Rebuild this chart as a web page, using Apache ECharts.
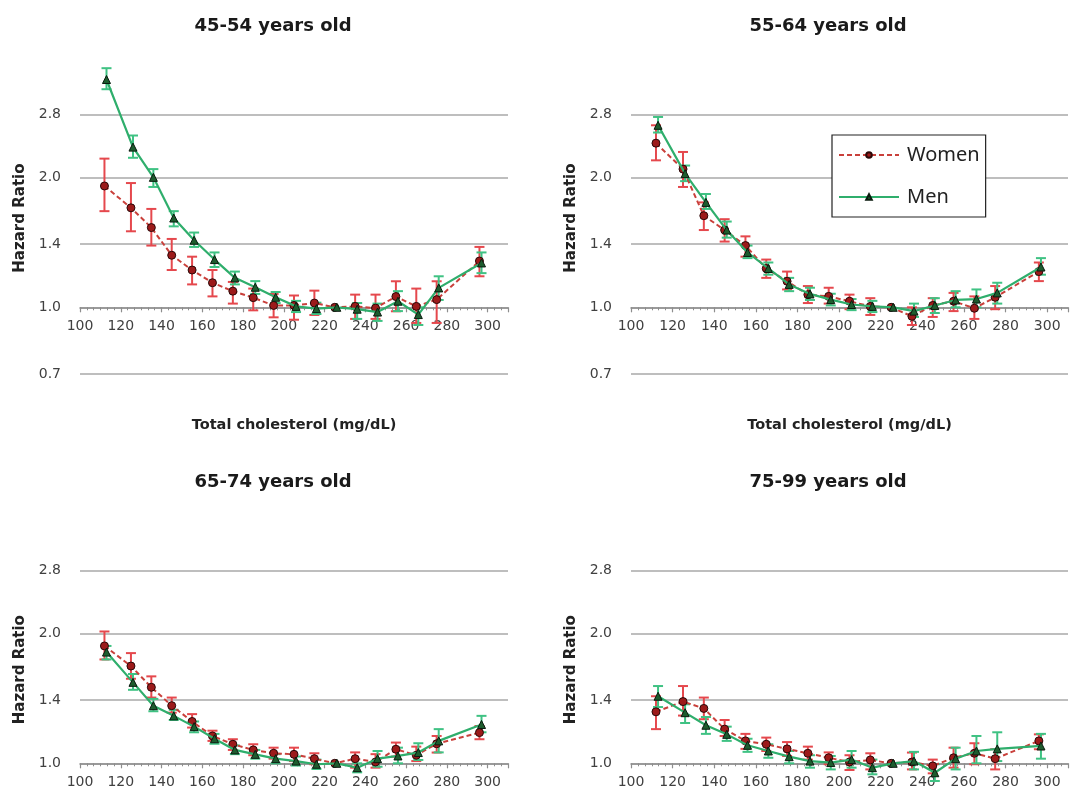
<!DOCTYPE html>
<html><head><meta charset="utf-8">
<script src="https://cdn.jsdelivr.net/npm/echarts@6/dist/echarts.min.js"></script>
<style>html,body{margin:0;padding:0;background:#fff}#c{width:1071px;height:794px}</style>
</head><body><div id="c"></div>
<script>
// ---- data ----
const xWomen = [112,125,135,145,155,165,175,185,195,205,215,225,235,245,255,265,275,296];
const xMen   = [113,126,136,146,156,166,176,186,196,206,216,226,236,246,256,266,276,297];
const yTicks = [0.7, 1.0, 1.4, 2.0, 2.8];
const panelTitles = ['45-54 years old','55-64 years old','65-74 years old','75-99 years old'];
const xAxisTitle = 'Total cholesterol (mg/dL)';
const yAxisTitle = 'Hazard Ratio';
const seriesNames = ['Women','Men'];

// 45-54
const w1   = [1.91,1.70,1.53,1.32,1.22,1.14,1.09,1.053,1.01,1.01,1.023,1.0,1.005,0.996,1.059,1.005,1.042,1.28];
const w1lo = [1.67,1.50,1.39,1.22,1.13,1.06,1.02,0.984,0.948,0.936,0.96,null,0.94,0.94,0.979,0.92,0.92,1.18];
const w1hi = [2.21,1.94,1.69,1.44,1.31,1.22,1.145,1.105,1.074,1.065,1.093,null,1.07,1.07,1.149,1.105,1.149,1.38];
const m1   = [3.37,2.35,2.00,1.61,1.43,1.29,1.17,1.113,1.055,1.005,0.993,1.0,0.99,0.975,1.033,0.962,1.109,1.267];
const m1lo = [3.20,2.22,1.90,1.54,1.38,1.24,1.13,1.074,1.023,0.975,0.965,null,0.94,0.93,0.98,0.91,1.04,1.20];
const m1hi = [3.58,2.50,2.09,1.67,1.49,1.34,1.21,1.15,1.085,1.035,1.025,null,1.023,1.02,1.09,1.0,1.18,1.34];
// 55-64
const w2   = [2.40,2.09,1.63,1.51,1.39,1.23,1.149,1.07,1.06,1.033,1.005,1.0,0.953,1.01,1.033,0.995,1.055,1.21];
const w2lo = [2.19,1.90,1.51,1.42,1.31,1.17,1.10,1.023,1.02,0.99,0.96,null,0.91,0.95,0.98,0.94,0.99,1.15];
const w2hi = [2.64,2.29,1.75,1.60,1.46,1.29,1.21,1.12,1.11,1.07,1.05,null,1.0,1.05,1.08,1.06,1.12,1.27];
const m2   = [2.64,2.04,1.75,1.51,1.34,1.23,1.13,1.074,1.042,1.015,1.005,1.0,0.98,1.01,1.04,1.045,1.08,1.24];
const m2lo = [2.54,1.96,1.69,1.45,1.30,1.19,1.09,1.04,1.01,0.985,0.975,null,0.95,0.97,1.0,1.0,1.02,1.19];
const m2hi = [2.76,2.13,1.83,1.58,1.39,1.27,1.17,1.11,1.075,1.045,1.035,null,1.02,1.05,1.09,1.10,1.14,1.30];
// 65-74
const w3   = [1.87,1.68,1.50,1.36,1.25,1.157,1.107,1.074,1.055,1.049,1.025,1.0,1.025,1.007,1.078,1.044,1.11,1.178];
const w3lo = [1.74,1.57,1.42,1.31,1.21,1.127,1.074,1.044,1.025,1.012,0.995,null,0.977,0.977,1.036,1.012,1.059,1.137];
const w3hi = [2.02,1.80,1.59,1.42,1.30,1.19,1.137,1.107,1.087,1.087,1.055,null,1.06,1.05,1.117,1.093,1.157,1.22];
const m3   = [1.81,1.54,1.36,1.288,1.216,1.14,1.074,1.049,1.025,1.012,0.995,1.0,0.977,1.025,1.04,1.059,1.127,1.23];
const m3lo = [1.74,1.48,1.32,1.26,1.18,1.11,1.05,1.025,1.0,0.988,0.97,null,0.953,0.982,1.0,1.018,1.06,1.18];
const m3hi = [1.87,1.61,1.41,1.33,1.25,1.17,1.1,1.074,1.05,1.037,1.02,null,1.0,1.068,1.087,1.113,1.2,1.288];
// 75-99
const w4   = [1.316,1.39,1.34,1.20,1.127,1.107,1.08,1.055,1.03,1.007,1.018,1.0,1.007,0.986,1.03,1.055,1.025,1.127];
const w4lo = [1.20,1.29,1.265,1.157,1.08,1.068,1.04,1.02,0.995,0.965,0.968,null,0.968,0.948,0.977,0.995,0.968,1.078];
const w4hi = [1.43,1.51,1.42,1.26,1.17,1.147,1.12,1.093,1.06,1.044,1.055,null,1.059,1.02,1.087,1.113,1.078,1.167];
const m4   = [1.43,1.31,1.225,1.167,1.101,1.068,1.036,1.012,1.004,1.02,0.977,1.0,1.012,0.951,1.025,1.068,1.08,1.097];
const m4lo = [1.35,1.24,1.17,1.127,1.063,1.03,1.0,0.977,0.968,0.977,0.943,null,0.968,0.91,0.968,1.0,1.012,1.025];
const m4hi = [1.51,1.37,1.28,1.216,1.14,1.107,1.068,1.044,1.04,1.068,1.02,null,1.063,0.995,1.087,1.157,1.18,1.17];

const panels = [
  {w:w1, wlo:w1lo, whi:w1hi, m:m1, mlo:m1lo, mhi:m1hi},
  {w:w2, wlo:w2lo, whi:w2hi, m:m2, mlo:m2lo, mhi:m2hi},
  {w:w3, wlo:w3lo, whi:w3hi, m:m3, mlo:m3lo, mhi:m3hi},
  {w:w4, wlo:w4lo, whi:w4hi, m:m4, mlo:m4lo, mhi:m4hi}
];

// ---- layout / style ----
const Y_MAX = 3.7;
const PX_PER_LN = 187.5;
// bottom-row panels are cropped by the picture edge, so their visible range stops above 0.7
const panelMin = [0.7, 0.7, 0.852, 0.852];
const gridPos = [
  {left:80, top:62, width:428},
  {left:631, top:62, width:437},
  {left:80, top:518, width:428},
  {left:631, top:518, width:437}
];
const yNamePad = [[0,0,0,0],[0,0,0,0],[0,28,0,0],[0,28,0,0]];
const titlePos = [{x:268,y:12},{x:823,y:12},{x:268,y:468},{x:823,y:468}];
const C_W_LINE = '#c9403b', C_W_ERR = '#e5484d', C_W_SYM = '#9c1a1a';
const C_M_LINE = '#2fae6c', C_M_ERR = '#3fc283', C_M_SYM = '#1d5c2e';
const GRID_C = '#a8a8a8', AXIS_C = '#8e8e8e', TXT_C = '#404040';
const FONT = 'DejaVu Sans';

function errRender(color){
  return function(params, api){
    const x = api.value(0), lo = api.value(1), hi = api.value(2);
    const a = api.coord([x, lo]), b = api.coord([x, hi]);
    const w = 5;
    const st = {stroke: color, lineWidth: 2};
    return {type:'group', children:[
      {type:'line', shape:{x1:a[0], y1:a[1], x2:b[0], y2:b[1]}, style:st},
      {type:'line', shape:{x1:a[0]-w, y1:a[1], x2:a[0]+w, y2:a[1]}, style:st},
      {type:'line', shape:{x1:b[0]-w, y1:b[1], x2:b[0]+w, y2:b[1]}, style:st}
    ]};
  };
}

const grid = [], xAxis = [], yAxis = [], series = [], title = [];
panels.forEach((p, i) => {
  const g = gridPos[i];
  const yMin = panelMin[i];
  const h = PX_PER_LN * Math.log(Y_MAX / yMin);
  grid.push({left:g.left, top:g.top, width:g.width, height:h, outerBoundsMode:'none', containLabel:false});
  const xOff = -h * Math.log(1 / yMin) / Math.log(Y_MAX / yMin);
  xAxis.push({
    type:'value', gridIndex:i, min:100, max:310, interval:20, position:'bottom', offset:xOff,
    axisLine:{show:true, onZero:false, lineStyle:{color:AXIS_C, width:1.5}},
    axisTick:{show:true, length:5, lineStyle:{color:AXIS_C, width:1.2}},
    minorTick:{show:true, splitNumber:6, length:3, lineStyle:{color:AXIS_C}},
    splitLine:{show:false},
    axisLabel:{formatter:v => v <= 300 ? String(v) : '', fontSize:14, color:TXT_C, fontFamily:FONT, margin:12},
    name: i < 2 ? xAxisTitle : '', nameLocation:'middle', nameGap:110,
    nameTextStyle:{fontSize:14.5, fontWeight:'bold', color:'#222', fontFamily:FONT}
  });
  yAxis.push({
    type:'log', gridIndex:i, min:yMin, max:Y_MAX, logBase:10,
    axisLine:{show:false},
    axisTick:{show:false, customValues:yTicks.filter(v => v >= yMin)},
    axisLabel:{customValues:yTicks.filter(v => v >= yMin), formatter:v => Number(v).toFixed(1), fontSize:14, color:TXT_C, fontFamily:FONT, margin:19},
    splitLine:{show:true, lineStyle:{color:GRID_C, width:1.5}},
    name:yAxisTitle, nameLocation:'middle', nameGap:52, nameRotate:90,
    nameTextStyle:{fontSize:15, fontWeight:'bold', color:'#222', fontFamily:FONT, padding:yNamePad[i]}
  });
  title.push({text:panelTitles[i], left:titlePos[i].x, top:titlePos[i].y, textAlign:'center',
    textStyle:{fontSize:18, fontWeight:'bold', color:'#1a1a1a', fontFamily:FONT}});

  const wErr = [], mErr = [];
  xWomen.forEach((x, k) => { if (p.wlo[k] != null) wErr.push([x, p.wlo[k], p.whi[k]]); });
  xMen.forEach((x, k) => { if (p.mlo[k] != null) mErr.push([x, p.mlo[k], p.mhi[k]]); });

  series.push({type:'custom', name:'Women CI', xAxisIndex:i, yAxisIndex:i, renderItem:errRender(C_W_ERR),
    data:wErr, encode:{x:0, y:[1,2]}, z:2, silent:true, clip:false});
  series.push({type:'custom', name:'Men CI', xAxisIndex:i, yAxisIndex:i, renderItem:errRender(C_M_ERR),
    data:mErr, encode:{x:0, y:[1,2]}, z:2, silent:true, clip:false});
  series.push({type:'line', name:seriesNames[0], xAxisIndex:i, yAxisIndex:i,
    data:xWomen.map((x, k) => [x, p.w[k]]),
    symbol:'circle', symbolSize:8, showAllSymbol:true,
    lineStyle:{color:C_W_LINE, width:2, type:[5,3]},
    itemStyle:{color:C_W_SYM, borderColor:'#2a0808', borderWidth:1},
    z:3, animation:false});
  series.push({type:'line', name:seriesNames[1], xAxisIndex:i, yAxisIndex:i,
    data:xMen.map((x, k) => [x, p.m[k]]),
    symbol:'triangle', symbolSize:8, showAllSymbol:true,
    lineStyle:{color:C_M_LINE, width:2.2},
    itemStyle:{color:C_M_SYM, borderColor:'#0a1a0e', borderWidth:1},
    z:4, animation:false});
});

const chart = echarts.init(document.getElementById('c'), null, {renderer:'canvas'});
chart.setOption({
  animation:false,
  backgroundColor:'#fff',
  title, grid, xAxis, yAxis, series,
  legend:{
    data:seriesNames, orient:'vertical', left:832, top:135,
    padding:[10,6,10,6], itemGap:22, itemWidth:60, itemHeight:7,
    borderColor:'#222', borderWidth:1.2, backgroundColor:'#fff',
    textStyle:{fontSize:20, fontFamily:'Noto Sans', color:'#222', padding:[0,0,0,3]}
  }
});
</script>
</body></html>
